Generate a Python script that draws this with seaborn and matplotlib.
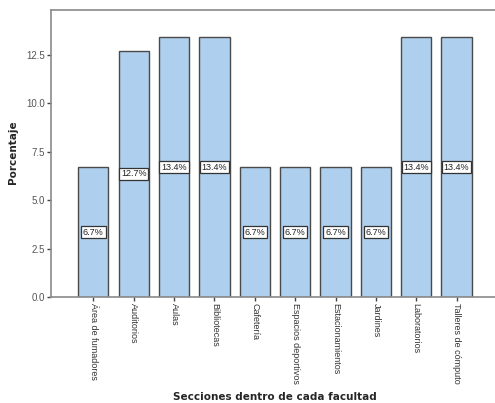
import matplotlib
matplotlib.use('agg')
import matplotlib.pyplot as plt
import pandas as pd
import seaborn as sns

secciones = ["Área de fumadores", "Auditorios", "Aulas", "Bibliotecas",
             "Cafetería", "Espacios deportivos", "Estacionamientos",
             "Jardines", "Laboratorios", "Talleres de cómputo"]
porcentaje = [6.7, 12.7, 13.4, 13.4, 6.7, 6.7, 6.7, 6.7, 13.4, 13.4]
y_ticks = [0.0, 2.5, 5.0, 7.5, 10.0, 12.5]

df = pd.DataFrame({"seccion": secciones, "pct": porcentaje})

sns.set_style("white")
plt.rcParams['font.family'] = ['Liberation Sans', 'DejaVu Sans']

fig = plt.figure(figsize=(4.95, 4.03), dpi=100)
ax = fig.add_axes([0.103, 0.263, 0.905, 0.712])

sns.barplot(data=df, x="seccion", y="pct", color="#aecfee", saturation=1,
            edgecolor="#4a4a4a", linewidth=1.0, width=0.75, ax=ax)

labels = ["%.1f%%" % v for v in porcentaje]
ax.bar_label(ax.containers[0], labels=labels, label_type='center',
             fontsize=6.5, color="#222222",
             bbox=dict(boxstyle="square,pad=0.2", fc="white", ec="#333333",
                       lw=0.9))

ax.set_xlim(-1.05, len(secciones) + 0.05)
ax.set_ylim(0, 14.8)
ax.set_yticks(y_ticks)
ax.set_yticklabels(["%.1f" % t for t in y_ticks], fontsize=7, color="#555555")
ax.set_xticks(range(len(secciones)))
ax.set_xticklabels(secciones, rotation=270, fontsize=6.5, color="#333333",
                   ha='center', va='top')

for s in ax.spines.values():
    s.set_color("#8a8a8a")
    s.set_linewidth(1.2)
ax.tick_params(axis='both', which='major', direction='out', length=3,
               width=1, color="#444444", pad=1.5)
ax.tick_params(axis='x', bottom=True)
ax.tick_params(axis='y', left=True)

ax.set_ylabel("Porcentaje", fontsize=7.5, fontweight='bold',
              family='DejaVu Sans', va='center')
ax.yaxis.set_label_coords(-0.085, 0.505)
ax.set_xlabel("Secciones dentro de cada facultad", fontsize=7.5,
              fontweight='bold', family='DejaVu Sans', va='center')
ax.xaxis.set_label_coords(0.5, -0.348)

fig.savefig("out.png", dpi=100)
